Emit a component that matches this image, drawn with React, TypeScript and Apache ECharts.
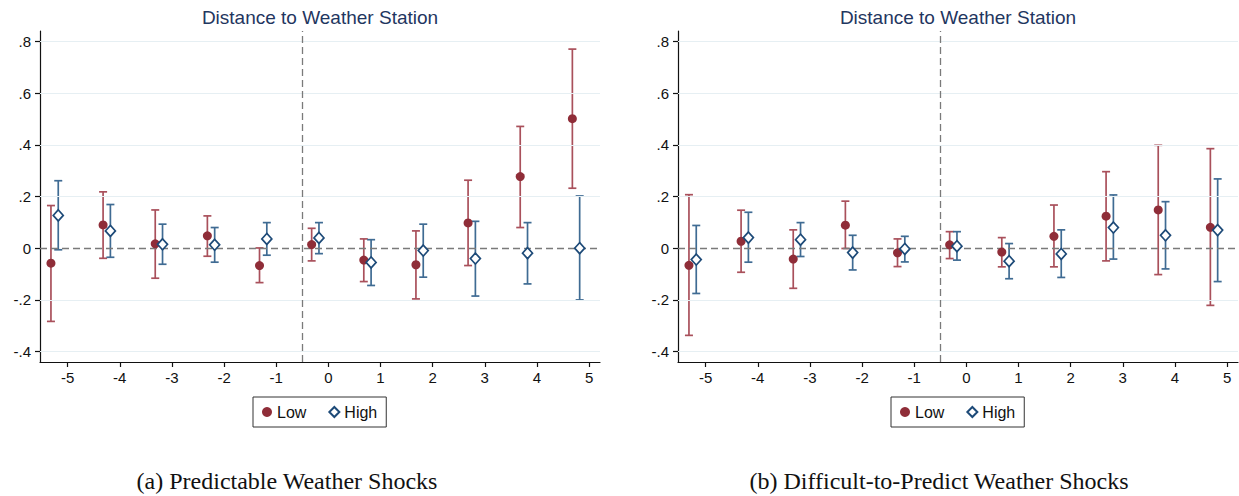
import React, { useEffect, useRef } from "react";
import * as echarts from "echarts";

// Event-time periods relative to the shock
const periods = [-5, -4, -3, -2, -1, 0, 1, 2, 3, 4, 5];

// (a) Predictable weather shocks
const predLowEst = [-0.058, 0.09, 0.017, 0.048, -0.067, 0.014, -0.046, -0.064, 0.098, 0.277, 0.501];
const predLowLo = [-0.283, -0.039, -0.116, -0.031, -0.133, -0.049, -0.129, -0.196, -0.067, 0.08, 0.232];
const predLowHi = [0.165, 0.218, 0.148, 0.125, 0.001, 0.077, 0.036, 0.067, 0.263, 0.471, 0.77];
const predHighEst = [0.127, 0.067, 0.015, 0.013, 0.036, 0.04, -0.055, -0.009, -0.04, -0.019, 0.0];
const predHighLo = [-0.006, -0.035, -0.062, -0.054, -0.027, -0.021, -0.144, -0.112, -0.185, -0.138, -0.2];
const predHighHi = [0.261, 0.169, 0.093, 0.08, 0.099, 0.099, 0.033, 0.093, 0.104, 0.099, 0.202];

// (b) Difficult-to-predict weather shocks
const diffLowEst = [-0.066, 0.027, -0.042, 0.089, -0.018, 0.013, -0.015, 0.046, 0.124, 0.148, 0.081];
const diffLowLo = [-0.337, -0.093, -0.155, -0.001, -0.071, -0.04, -0.072, -0.072, -0.049, -0.102, -0.221];
const diffLowHi = [0.207, 0.147, 0.071, 0.182, 0.036, 0.064, 0.041, 0.167, 0.296, 0.398, 0.385];
const diffHighEst = [-0.044, 0.041, 0.033, -0.017, -0.003, 0.008, -0.05, -0.022, 0.08, 0.05, 0.07];
const diffHighLo = [-0.175, -0.054, -0.032, -0.084, -0.053, -0.046, -0.118, -0.113, -0.042, -0.08, -0.129];
const diffHighHi = [0.088, 0.139, 0.099, 0.05, 0.046, 0.064, 0.018, 0.071, 0.206, 0.18, 0.268];

const yTicks = [-0.4, -0.2, 0, 0.2, 0.4, 0.6, 0.8];
const yGridLines = [-0.4, -0.2, 0.2, 0.4, 0.6, 0.8];
const xTicks = [-5, -4, -3, -2, -1, 0, 1, 2, 3, 4, 5];

const panelTitle = "Distance to Weather Station";
const captions = ["(a) Predictable Weather Shocks", "(b) Difficult-to-Predict Weather Shocks"];

// horizontal dodge of the two groups around each period
const LOW_SHIFT = -0.32;
const HIGH_SHIFT = -0.18;

const LOW_COLOR = "#8f2d38";
const LOW_BAR = "#a9505b";
const HIGH_COLOR = "#1d4a78";
const HIGH_BAR = "#3f6b93";
const FONT = "'Liberation Sans', Arial, sans-serif";

const fmtY = (v: number) => {
  if (Math.abs(v) < 1e-9) return "0";
  const s = v.toFixed(1);
  return s.replace("0.", ".");
};

function capRender(color: string) {
  return (params: any, api: any) => {
    const x = api.value(0);
    const lo = api.coord([x, api.value(1)]);
    const hi = api.coord([x, api.value(2)]);
    const hw = 4;
    const style = { stroke: color, lineWidth: 1.7 };
    return {
      type: "group",
      children: [
        { type: "line", shape: { x1: lo[0], y1: lo[1], x2: hi[0], y2: hi[1] }, style },
        { type: "line", shape: { x1: hi[0] - hw, y1: hi[1], x2: hi[0] + hw, y2: hi[1] }, style },
        { type: "line", shape: { x1: lo[0] - hw, y1: lo[1], x2: lo[0] + hw, y2: lo[1] }, style },
      ],
    };
  };
}

function panelSeries(
  idx: number,
  lowEst: number[],
  lowLo: number[],
  lowHi: number[],
  highEst: number[],
  highLo: number[],
  highHi: number[]
) {
  const lowX = periods.map((p) => p + LOW_SHIFT);
  const highX = periods.map((p) => p + HIGH_SHIFT);
  return [
    {
      type: "line",
      name: "ref" + idx,
      xAxisIndex: idx,
      yAxisIndex: idx,
      data: [],
      z: 1,
      silent: true,
      markLine: {
        silent: true,
        symbol: "none",
        label: { show: false },
        animation: false,
        data: [
          ...yGridLines.map((v) => ({ yAxis: v, lineStyle: { color: "#e6eff3", width: 1.2, type: "solid" } })),
          { yAxis: 0, lineStyle: { color: "#7a7a7a", width: 1.3, type: [7, 4] } },
          { xAxis: -0.5, lineStyle: { color: "#7a7a7a", width: 1.3, type: [7, 4] } },
        ],
      },
    },
    {
      type: "custom",
      name: "LowCI" + idx,
      xAxisIndex: idx,
      yAxisIndex: idx,
      z: 3,
      renderItem: capRender(LOW_BAR),
      data: lowX.map((x, i) => [x, lowLo[i], lowHi[i]]),
    },
    {
      type: "custom",
      name: "HighCI" + idx,
      xAxisIndex: idx,
      yAxisIndex: idx,
      z: 3,
      renderItem: capRender(HIGH_BAR),
      data: highX.map((x, i) => [x, highLo[i], highHi[i]]),
    },
    {
      type: "scatter",
      name: "Low",
      xAxisIndex: idx,
      yAxisIndex: idx,
      z: 5,
      symbol: "circle",
      symbolSize: 9,
      itemStyle: { color: LOW_COLOR, opacity: 1 },
      data: lowX.map((x, i) => [x, lowEst[i]]),
    },
    {
      type: "scatter",
      name: "High",
      xAxisIndex: idx,
      yAxisIndex: idx,
      z: 5,
      symbol: "diamond",
      symbolSize: [10, 11],
      itemStyle: { color: "#ffffff", borderColor: HIGH_COLOR, borderWidth: 1.7, opacity: 1 },
      data: highX.map((x, i) => [x, highEst[i]]),
    },
  ];
}

const gridLefts = [40, 678];
const panelCenters = [320, 958];
const titleCenters = [315, 953];
const captionCenters = [287, 939];

export default function App() {
  const ref = useRef<HTMLDivElement>(null);

  useEffect(() => {
    if (!ref.current) return;
    const chart = echarts.init(ref.current, undefined, { renderer: "svg" });

    const xAxis = [0, 1].map((i) => ({
      type: "value",
      gridIndex: i,
      min: -5.53,
      max: 5.21,
      splitLine: { show: false },
      axisLine: { onZero: false, lineStyle: { color: "#111", width: 1.2 } },
      axisTick: { show: true, length: 5, customValues: xTicks, lineStyle: { color: "#111", width: 1.2 } },
      axisLabel: {
        customValues: xTicks,
        color: "#111",
        fontSize: 15,
        fontFamily: FONT,
        margin: 8,
        formatter: (v: number) => String(v),
      },
    }));

    const yAxis = [0, 1].map((i) => ({
      type: "value",
      gridIndex: i,
      min: -0.44,
      max: 0.84,
      splitLine: { show: false },
      axisLine: { show: true, onZero: false, lineStyle: { color: "#111", width: 1.2 } },
      axisTick: { show: true, length: 5, customValues: yTicks, lineStyle: { color: "#111", width: 1.2 } },
      axisLabel: {
        customValues: yTicks,
        color: "#111",
        fontSize: 15,
        fontFamily: FONT,
        margin: 9,
        formatter: fmtY,
      },
    }));

    chart.setOption({
      animation: false,
      backgroundColor: "#ffffff",
      title: titleCenters.map((c) => ({
        text: panelTitle,
        left: c,
        top: 3,
        textAlign: "center",
        textStyle: { fontFamily: FONT, fontSize: 19, fontWeight: "normal", color: "#1f3660" },
      })),
      legend: panelCenters.map((c) => ({
        data: ["Low", "High"],
        left: c - 67,
        top: 397,
        orient: "horizontal",
        selectedMode: false,
        borderColor: "#333",
        borderWidth: 1,
        borderRadius: 0,
        padding: [7, 9, 7, 9],
        itemWidth: 10,
        itemHeight: 10,
        itemGap: 22,
        textStyle: { fontFamily: FONT, fontSize: 16, color: "#111" },
      })),
      grid: gridLefts.map((l) => ({ left: l, width: 560, top: 31, height: 331 })),
      xAxis,
      yAxis,
      graphic: captions.map((t, i) => ({
        type: "text",
        x: captionCenters[i],
        y: 481,
        style: {
          text: t,
          fill: "#111",
          font: "24px 'Liberation Serif', 'Times New Roman', serif",
          align: "center",
          verticalAlign: "middle",
        },
      })),
      series: [
        ...panelSeries(0, predLowEst, predLowLo, predLowHi, predHighEst, predHighLo, predHighHi),
        ...panelSeries(1, diffLowEst, diffLowLo, diffLowHi, diffHighEst, diffHighLo, diffHighHi),
      ],
    });

    return () => chart.dispose();
  }, []);

  return (
    <div
      ref={ref}
      style={{ position: "absolute", left: 0, top: 0, width: 1239, height: 496 }}
    />
  );
}
